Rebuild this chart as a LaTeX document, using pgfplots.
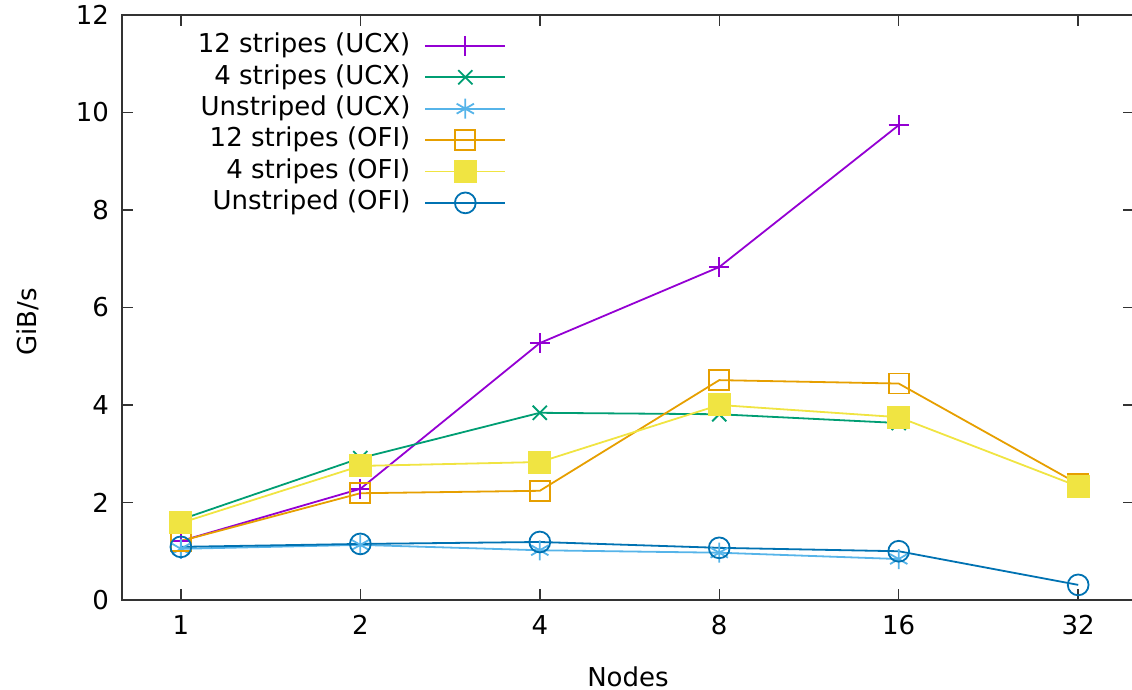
\documentclass[border=0pt]{standalone}
\usepackage{fontspec}
\setmainfont{DejaVu Sans}
\usepackage{pgfplots}
\pgfplotsset{compat=1.18}
\definecolor{cPurple}{HTML}{9400D3}
\definecolor{cGreen}{HTML}{009E73}
\definecolor{cLight}{HTML}{56B4E9}
\definecolor{cOrange}{HTML}{E69F00}
\definecolor{cYellow}{HTML}{F0E442}
\definecolor{cBlue}{HTML}{0072B2}
\begin{document}
\begin{tikzpicture}
\begin{axis}[
  name=ax,
  scale only axis,
  width=506pt, height=292.5pt,
  xmin=-0.328, xmax=5.311,
  ymin=0, ymax=12,
  xtick={0,1,2,3,4,5},
  xticklabels={1,2,4,8,16,32},
  ytick={0,2,4,6,8,10,12},
  tick align=inside,
  major tick length=5.5pt,
  axis line style={black!80, line width=0.75pt},
  every tick/.style={black!80, line width=0.75pt},
  font=\fontsize{13}{15}\selectfont,
  /pgf/number format/assume math mode=true,
  yticklabel style={xshift=-3pt},
  xticklabel style={yshift=-4pt},
  xlabel={Nodes},
  ylabel={GiB/s},
  every axis x label/.style={at={(axis description cs:0.5,-0.1316)}, anchor=center},
  every axis y label/.style={at={(axis description cs:-0.093,0.475)}, rotate=90, anchor=center},
  legend cell align=right,
  legend plot pos=right,
  legend style={at={(0.386,0.979)}, anchor=north east, draw=none, fill=none,
    nodes={inner sep=1pt, text height=9.5pt, text depth=2.7pt, text=black},
    row sep=1.5pt, column sep=6pt},
  legend image code/.code={\draw[line width=0.9pt, mark repeat=2,mark phase=2] plot coordinates {(0pt,0pt)(20pt,0pt)(40pt,0pt)};},
  every axis plot/.append style={line width=0.9pt},
]
\addplot[color=cPurple, mark=+, mark size=5pt, mark options={solid, draw=cPurple},
  legend image post style={color=cPurple, draw=cPurple}] coordinates {(0,1.21)(1,2.28)(2,5.27)(3,6.83)(4,9.74)};
\addlegendentry{12 stripes (UCX)}
\addplot[color=cGreen, mark=x, mark size=5pt, mark options={solid, draw=cGreen},
  legend image post style={color=cGreen, draw=cGreen}] coordinates {(0,1.65)(1,2.91)(2,3.84)(3,3.81)(4,3.63)};
\addlegendentry{4 stripes (UCX)}
\addplot[color=cLight, mark=asterisk, mark size=5pt, mark options={solid, draw=cLight},
  legend image post style={color=cLight, draw=cLight}] coordinates {(0,1.05)(1,1.13)(2,1.02)(3,0.97)(4,0.84)};
\addlegendentry{Unstriped (UCX)}
\addplot[color=cOrange, mark=square, mark size=5pt, mark options={solid, draw=cOrange},
  legend image post style={color=cOrange, draw=cOrange}] coordinates {(0,1.21)(1,2.19)(2,2.24)(3,4.51)(4,4.44)(5,2.38)};
\addlegendentry{12 stripes (OFI)}
\addplot[color=cYellow, mark=square*, mark size=5.3pt, mark options={solid, fill=cYellow, draw=cYellow},
  legend image post style={color=cYellow, draw=cYellow}] coordinates {(0,1.58)(1,2.75)(2,2.83)(3,4.0)(4,3.75)(5,2.33)};
\addlegendentry{4 stripes (OFI)}
\addplot[color=cBlue, mark=o, mark size=5.2pt, mark options={solid, draw=cBlue},
  legend image post style={color=cBlue, draw=cBlue}] coordinates {(0,1.09)(1,1.15)(2,1.19)(3,1.07)(4,1.0)(5,0.31)};
\addlegendentry{Unstriped (OFI)}
\end{axis}
\pgfresetboundingbox
\useasboundingbox ([xshift=-61pt,yshift=-45pt]ax.south west) rectangle ([xshift=-1pt,yshift=7.5pt]ax.north east);
\end{tikzpicture}
\end{document}
